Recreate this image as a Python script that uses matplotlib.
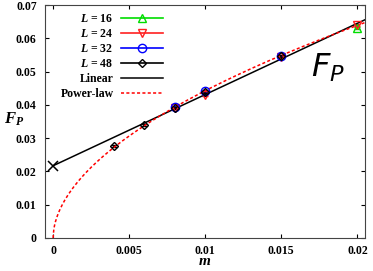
import numpy as np
import matplotlib
matplotlib.use('Agg')
import matplotlib.pyplot as plt
from matplotlib.lines import Line2D

plt.rcParams['font.family'] = 'Liberation Serif'
plt.rcParams['mathtext.fontset'] = 'custom'
plt.rcParams['mathtext.it'] = 'Liberation Serif:italic:bold'
plt.rcParams['mathtext.rm'] = 'Liberation Serif:bold'

# datos
m16 = [0.02]
F16 = [0.0630]
m24 = [0.008, 0.01, 0.015, 0.02]
F24 = [0.0390, 0.0431, 0.0545, 0.0641]
m32 = [0.008, 0.01, 0.015]
F32 = [0.0394, 0.0441, 0.0546]
m48 = [0.004, 0.006, 0.008, 0.01, 0.015]
F48 = [0.0277, 0.0339, 0.0392, 0.0440, 0.0546]
err = 0.0003

# ajustes
F0_lin = 0.0217
pend_lin = 2.14
a_pow = 0.508
b_pow = 0.53

fig = plt.figure(figsize=(3.73, 2.71), dpi=100)
ax = fig.add_axes([45/373, 33/271, 320/373, 233/271])

series = [
    (m16, F16, '#00dd00', '^', 6, r'$L$ = 16'),
    (m24, F24, '#ff2020', 'v', 6, r'$L$ = 24'),
    (m32, F32, '#0000ff', 'o', 6, r'$L$ = 32'),
    (m48, F48, 'black', 'D', 4.5, r'$L$ = 48'),
]
handles = []
for mx, Fy, col, mk, ms, lab in series:
    ax.errorbar(mx, Fy, yerr=err, color=col, marker=mk, mfc='none', ms=ms,
                mew=1, lw=1.2, capsize=2, ls='none')
    handles.append(Line2D([], [], color=col, marker=mk, mfc='none', ms=ms,
                          mew=1, lw=1.2, label=lab))

mm = np.linspace(0, 0.0205, 400)
l1, = ax.plot(mm, F0_lin + pend_lin*mm, color='black', lw=1.1, label='Linear')
l2, = ax.plot(mm, a_pow*mm**b_pow, color='red', ls=(0, (2, 1.5)), lw=1.1, label='Power-law')
ax.plot([0], [F0_lin], marker='x', color='black', ms=7, mew=1.1)
handles += [l1, l2]

ax.set_xlim(-0.00053, 0.0205)
ax.set_ylim(0, 0.07)
ax.set_xticks([0, 0.005, 0.01, 0.015, 0.02])
ax.set_xticklabels(['0', '0.005', '0.01', '0.015', '0.02'], fontweight='bold')
ax.set_yticks(np.arange(0, 0.071, 0.01))
ax.set_yticklabels(['0', '0.01', '0.02', '0.03', '0.04', '0.05', '0.06', '0.07'],
                   fontweight='bold')
ax.tick_params(direction='in', top=True, right=True, labelsize=8.5, length=3)
ax.tick_params(axis='x', pad=5)
ax.tick_params(axis='y', pad=6)
for s in ax.spines.values():
    s.set_linewidth(0.8)
    s.set_color('#444444')

ax.set_xlabel(r'$m$', fontsize=11)
ax.xaxis.set_label_coords(0.5, -0.075)
ax.set_ylabel(r'$F_P$', fontsize=12, rotation=0)
ax.yaxis.set_label_coords(-0.095, 0.47)
ax.text(0.885, 0.73, r'$F_P$', transform=ax.transAxes, fontsize=23,
        family='DejaVu Sans', math_fontfamily='dejavusans',
        ha='center', va='center')

ax.legend(handles=handles, loc='upper right', bbox_to_anchor=(0.395, 1.0),
          frameon=False, markerfirst=False, handlelength=3.6,
          labelspacing=0.25, borderaxespad=0.3, handletextpad=0.6,
          prop={'family': 'Liberation Serif', 'weight': 'bold', 'size': 8.5})

plt.savefig('out.png', dpi=100)
